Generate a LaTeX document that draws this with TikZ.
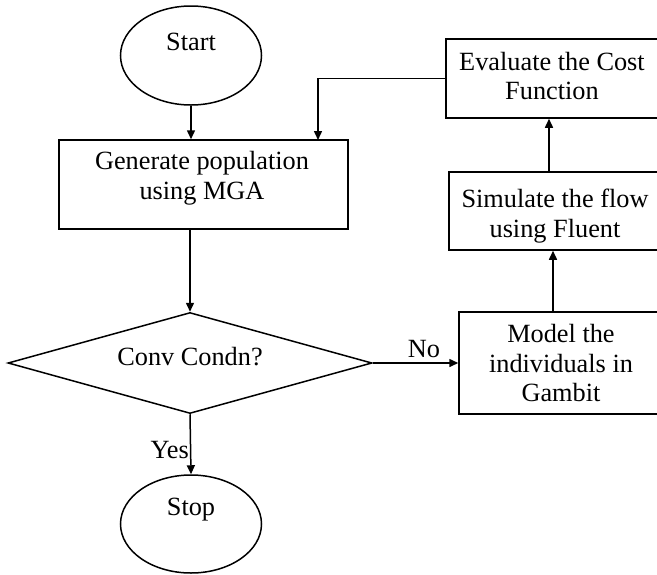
\documentclass[tikz,border=0pt]{standalone}
\usepackage{fontspec}
\setmainfont{Liberation Serif}
\usetikzlibrary{shapes.geometric,arrows.meta,calc}
\begin{document}
\begin{tikzpicture}[x=1pt,y=-1pt,
  every node/.style={font=\fontsize{26.3}{29.5}\selectfont, inner sep=0pt},
  line/.style={line width=1.5pt, draw=black},
  arr/.style={line, -{Triangle[length=9pt,width=8pt]}},
  procbox/.style={line, rectangle, align=center},
  term/.style={line, ellipse},
  decision/.style={line, diamond, minimum width=364pt, minimum height=101pt}]
\useasboundingbox (0,0) rectangle (657,574);
\clip (0,0) rectangle (657,574);
% nodes
\node[term, minimum width=141pt, minimum height=99pt] (start) at (191,55.5) {};
\node (starttxt) at (191,42) {Start};
\node[procbox, minimum width=289pt, minimum height=89pt] (gen) at (203.5,184.5) {};
\node[align=center] (gentxt) at (202,178) {Generate population\\using MGA};
\node[decision] (dia) at (190,363) {};
\node (diatxt) at (190,357) {Conv Condn?};
\node[term, minimum width=141pt, minimum height=98pt] (stop) at (191,524) {};
\node (stoptxt) at (191,510) {Stop};
\node[procbox, minimum width=224pt, minimum height=79pt] (eval) at (558,78.5) {};
\node[align=center] (evaltxt) at (552,76) {Evaluate the Cost\\Function};
\node[procbox, minimum width=221pt, minimum height=78pt] (sim) at (559.5,211) {};
\node[align=center] (simtxt) at (555,216) {Simulate the flow\\using Fluent};
\node[procbox, minimum width=211pt, minimum height=102pt] (model) at (564.5,363) {};
\node[align=center] (modeltxt) at (561,363) {Model the\\individuals in\\Gambit};
\coordinate (fbin) at (318,140);
% connectors
\draw[arr] (start.south) -- (start.south |- gen.north);
\draw[arr] (eval.west) -| (fbin);
\draw[arr] (dia.north |- gen.south) -- (dia.north);
\draw[arr] (dia.east) -- (model.west) node[pos=0.6, above=4pt] (no) {No};
\draw[arr] (dia.south) -- (stop.north) node[pos=0.6, left=1pt] (yes) {Yes};
\draw[arr] ([xshift=-11.5pt]model.north) -- ([xshift=-11.5pt]model.north |- sim.south);
\draw[arr] ([xshift=-10.5pt]sim.north) -- ([xshift=-10.5pt]sim.north |- eval.south);
\end{tikzpicture}
\end{document}
